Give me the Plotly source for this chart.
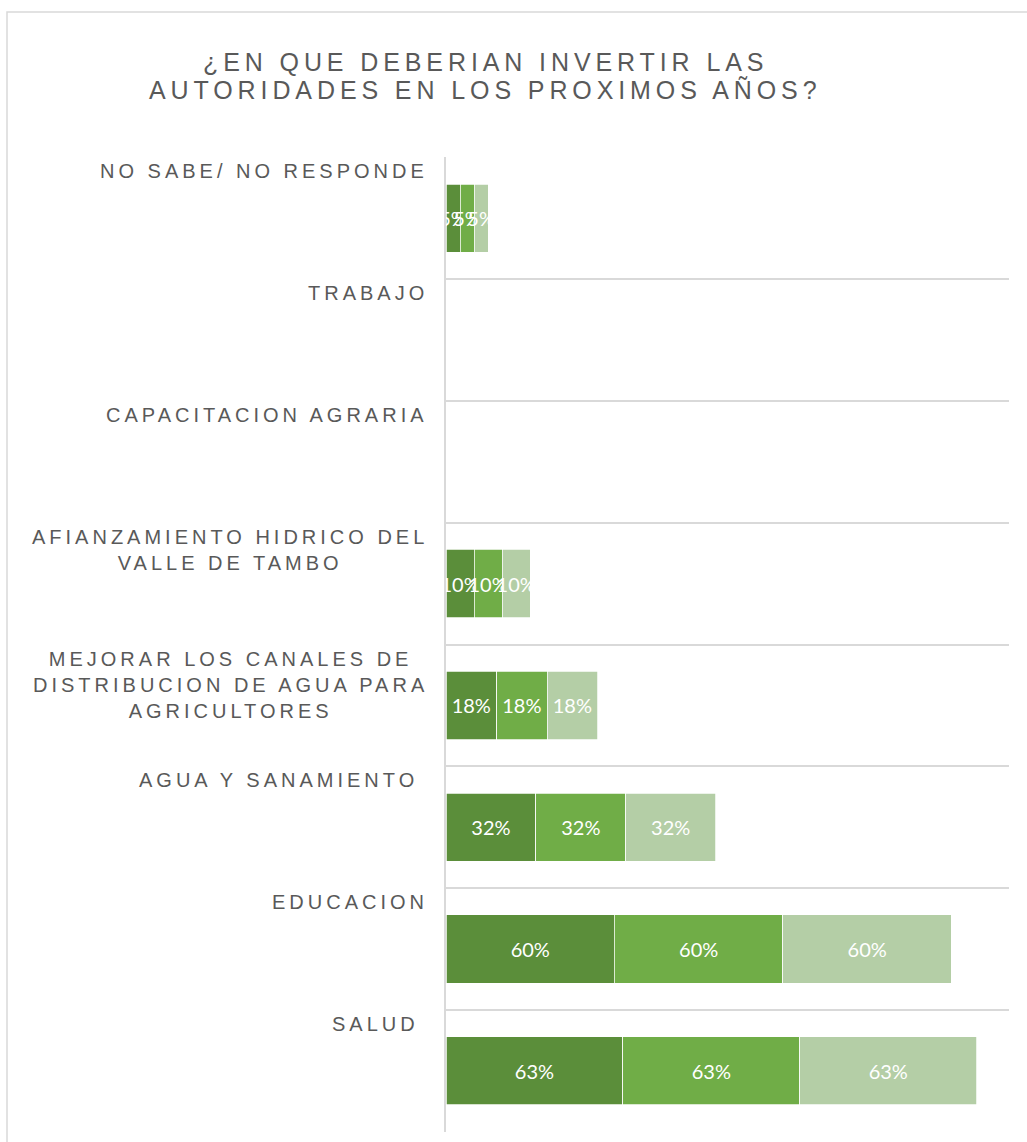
import plotly.graph_objects as go

# ---- data ----
categories = [
    "NO SABE/ NO RESPONDE",
    "TRABAJO",
    "CAPACITACION AGRARIA",
    "AFIANZAMIENTO HIDRICO DEL\nVALLE DE TAMBO",
    "MEJORAR LOS CANALES DE\nDISTRIBUCION DE AGUA PARA\nAGRICULTORES",
    "AGUA Y SANAMIENTO\u00a0",
    "EDUCACION",
    "SALUD\u00a0",
]
serie1 = [0.05, 0.0, 0.0, 0.10, 0.18, 0.32, 0.60, 0.63]
serie2 = [0.05, 0.0, 0.0, 0.10, 0.18, 0.32, 0.60, 0.63]
serie3 = [0.05, 0.0, 0.0, 0.10, 0.18, 0.32, 0.60, 0.63]
series_names = ["Serie1", "Serie2", "Serie3"]
title_lines = ["¿EN QUE DEBERIAN INVERTIR LAS", "AUTORIDADES EN LOS PROXIMOS AÑOS?"]

# ---- style ----
W, H = 1027, 1142
L, R, T, B = 446, 18, 157, 10
colors = ["#5B8E3A", "#70AD47", "#B4CEA6"]
grid = "#D9D9D9"
txt = "#595959"
LABEL_FONT = "Liberation Sans, Arial, sans-serif"


def spaced(s, ls):
    return "<br>".join(
        f'<span style="letter-spacing:{ls}px">{line}</span>' for line in s.split("\n")
    )


ypos = list(range(len(categories)))

fig = go.Figure()
for name, vals, col in zip(series_names, [serie1, serie2, serie3], colors):
    fig.add_trace(go.Bar(
        y=ypos, x=vals, name=name, orientation="h",
        marker=dict(color=col, line=dict(color="white", width=0.75)),
        texttemplate="%{x:.0%}", textposition="inside",
        insidetextanchor="middle", constraintext="none", textangle=0,
        insidetextfont=dict(family="Lato, Open Sans, sans-serif", size=20, color="white"),
        cliponaxis=False, hoverinfo="skip",
    ))

pw = W - L - R
ph = H - T - B
ann = []
for i, c in enumerate(categories):
    ann.append(dict(
        text=spaced(c, 4), xref="paper", x=(430 - L) / pw, xanchor="right",
        yref="y", y=i - 0.5, yanchor="top", yshift=-1, align="center",
        showarrow=False, font=dict(family=LABEL_FONT, size=20, color=txt),
    ))

# title as two lines (tighter line spacing like the reference)
title_y_px = [62, 90]
for line, ypx in zip(title_lines, title_y_px):
    ann.append(dict(
        text=spaced(line, 4.9), xref="paper", x=(485 - L) / pw, xanchor="center",
        yref="paper", y=(H - B - ypx) / ph, yanchor="middle",
        showarrow=False, font=dict(family=LABEL_FONT, size=25, color=txt),
    ))

fig.update_layout(
    width=W, height=H,
    margin=dict(l=L, r=R, t=T, b=B),
    barmode="stack", bargap=0.44,
    showlegend=False,
    plot_bgcolor="white", paper_bgcolor="white",
    xaxis=dict(range=[0, 2.005], showticklabels=False, showgrid=False,
               zeroline=False, showline=False, fixedrange=True),
    yaxis=dict(range=[len(categories) - 0.5 + 0.002, -0.5 - 0.002],
               tickvals=[i - 0.5 for i in range(len(categories) + 1)],
               showticklabels=False, ticks="", showgrid=True, gridcolor=grid,
               gridwidth=1.5, zeroline=False, showline=True, linecolor=grid,
               linewidth=1.5, fixedrange=True),
    annotations=ann,
    shapes=[dict(type="rect", xref="paper", yref="paper",
                 x0=(7 - L) / pw, x1=(W + 20 - L) / pw,
                 y0=-(50) / ph, y1=(H - B - 12) / ph,
                 line=dict(color=grid, width=1.5), fillcolor="rgba(0,0,0,0)",
                 layer="above")],
)

fig.write_html("out.html", config={"displayModeBar": False},
               post_script="document.body.style.margin='0';")
